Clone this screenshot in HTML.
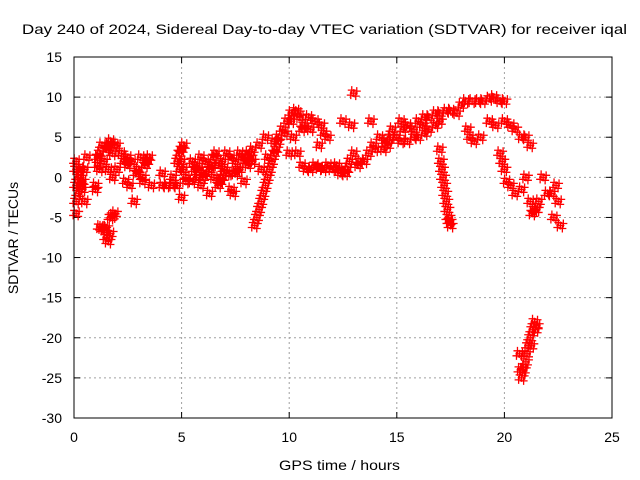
<!DOCTYPE html>
<html><head><meta charset="utf-8"><style>
body{margin:0;background:#fff;}
svg{display:block;font-family:"Liberation Sans",sans-serif;}
</style></head><body>
<svg id="chart" width="640" height="480">
<rect width="640" height="480" fill="#fff"/>
<text x="22" y="34" font-size="14" textLength="605" lengthAdjust="spacingAndGlyphs">Day 240 of 2024, Sidereal Day-to-day VTEC variation (SDTVAR) for receiver iqal</text>
<text x="279" y="470" font-size="14" textLength="121" lengthAdjust="spacingAndGlyphs">GPS time / hours</text>
<text transform="translate(18,238) rotate(-90)" font-size="14" text-anchor="middle">SDTVAR / TECUs</text>
<g id="grid"></g><g id="ticks"></g><g id="pts"></g>
<rect x="74" y="57" width="538" height="361" fill="none" stroke="#000"/>
</svg>
<script>
const xTicks=[0,5,10,15,20,25];
const yTicks=[15,10,5,0,-5,-10,-15,-20,-25,-30];
const xs=[0.1,0.1,0.1,0.1,0.1,0.2,0.2,0.3,0.3,0.3,0.4,0.4,0.5,0.5,0.6,1.0,1.0,1.1,1.1,1.2,1.2,1.2,1.3,1.3,1.4,1.4,1.5,1.5,1.5,1.6,1.6,1.6,1.7,1.7,1.7,1.8,1.8,1.8,1.9,1.9,2.0,2.0,
2.3,2.4,2.5,2.6,2.7,2.8,2.9,3.0,3.1,3.2,3.3,3.4,3.5,3.6,3.2,2.2,2.5,
4.1,4.1,4.3,4.6,4.6,4.8,4.8,4.9,4.9,5.0,5.0,5.0,5.1,5.1,5.2,5.2,
5.5,5.5,5.7,5.7,5.9,5.9,6.1,6.1,6.3,6.3,6.5,6.5,6.7,6.7,6.9,6.9,7.1,7.1,7.3,7.3,7.5,7.5,7.7,7.7,7.9,7.9,8.1,8.1,8.3,8.3,5.6,6.0,6.4,6.8,7.2,7.6,8.0,5.8,6.6,7.0,7.4,7.8,8.2,
8.4,8.5,8.6,8.7,8.8,8.9,9.0,9.1,9.2,9.3,9.4,9.5,8.7,9.0,9.3,9.5,8.6,8.9,
9.7,9.9,10.1,10.3,10.5,10.7,10.2,10.0,10.4,10.6,10.8,9.8,10.1,10.4,10.6,
11.0,11.2,11.4,11.6,11.8,12.0,11.5,11.2,11.8,11.0,11.4,11.6,10.9,
12.3,12.6,12.8,13.0,13.2,12.5,12.9,13.0,12.2,12.7,13.3,12.4,
13.5,13.7,14.0,14.2,14.5,14.7,15.0,14.8,14.2,13.8,14.4,13.9,14.6,
15.2,15.5,15.8,16.0,16.3,16.5,16.8,17.0,15.5,15.8,16.0,16.3,16.5,16.8,17.0,17.3,17.5,15.2,15.3,16.2,
17.0,17.05,17.1,17.15,17.2,17.25,17.3,17.35,17.4,17.45,17.5,
17.8,18.0,18.2,18.5,18.8,19.0,19.3,19.5,19.8,20.0,18.3,18.4,18.6,18.9,19.3,19.6,20.0,20.3,20.5,20.8,21.0,21.2,19.8,19.9,20.0,20.1,20.3,20.5,20.8,21.0,21.2,21.4,21.6,21.8,22.0,22.3,22.5,22.4,22.6,21.3,21.5,22.2,
20.7,20.75,20.8,20.85,20.9,21.0,21.05,21.1,21.2,21.25,21.3,21.4,21.45,21.5];
const ys=[2,1,-1,-3,-4.5,0,-2,-1,0,1,-1.5,-0.5,1,-3,2.5,-1,-1.5,1.5,2.5,-6.2,3,1,-6.3,4,-6.5,2,-6.3,-7.5,3.5,-8,4,1,-5,-7,4.5,-4.8,3,0,-4.5,4,4,1,
2,-0.5,1.5,-1,2,-3,0.5,1,2.5,-0.5,1.5,2,2.5,-1,0,3,2.5,
-1,0.5,-1,-1,0,2,-1,3,1,3.5,2,-2.5,4,1,0,-0.5,
2,-0.5,1.5,0,2.5,-1,2,0.5,1,-2,2.5,0,1.5,-1,2,0,3,0.5,2.5,-1.5,2,0.5,3,1,2.5,-0.5,3,1.5,3.5,2,1,0,1.5,-0.5,0.5,1,2,1,3,1,-2,2.5,2.5,
-6,-5,-4,-3,-2,-1,0,1,2,3,3.5,4.5,1,2.5,4.5,5,4,5,
6,7,8,8.3,7.5,6.5,5,3,3,1.5,1,5.5,7,8,6,
1,1.5,1.2,1,1.5,1,6.5,7,5,6,4,5.5,7.5,
1,0.5,2,3,1.5,7,6.5,10.5,1.5,1,2,0.5,
2,3,3.5,5,4.5,5,5,6,5,7,3.5,4,4,
4.5,4.5,5,5,5.5,6,6.5,7,6.5,6,7,7.5,7.5,8,8,8.3,8.3,7,6,6.5,
3.5,2,1,0,-1,-2,-3,-4,-5,-5.5,-6,
8,9,9.5,9.5,9.5,9.5,9.8,10,9.5,9.5,6,5,4.5,5,7,6.5,7,6.5,6,5,5,4,3,2,1,-0.5,-1,-2,-1.5,0,-3,-4,-3,0,-2,-5,-3,-1,-6,-4.5,-4,-2,
-22,-24,-25,-24,-24,-23,-22,-21,-20,-21,-19,-18,-19,-18.5];
const X=v=>74+v*538/25, Y=v=>57+(15-v)*361/45;
const NS='http://www.w3.org/2000/svg';
const g=document.getElementById('grid'),t=document.getElementById('ticks'),p=document.getElementById('pts');
function mk(tag,a,parent){const e=document.createElementNS(NS,tag);for(const k in a)e.setAttribute(k,a[k]);parent.appendChild(e);return e;}
xTicks.forEach(v=>{
 const l=mk('line',{x1:X(v),x2:X(v),y1:57,y2:418,stroke:'#a0a0a0','stroke-dasharray':'2,3'},g);
 
 
 const tk=mk('text',{x:X(v),y:442,'font-size':14,'text-anchor':'middle'},t);tk.textContent=v;
 
 
 mk('line',{x1:X(v),x2:X(v),y1:418,y2:412,stroke:'#000'},t);
 mk('line',{x1:X(v),x2:X(v),y1:57,y2:63,stroke:'#000'},t);
});
yTicks.forEach(v=>{
 const l=mk('line',{x1:74,x2:612,y1:Y(v),y2:Y(v),stroke:'#a0a0a0','stroke-dasharray':'2,3'},g);
 
 
 const tk=mk('text',{x:62,y:Y(v)+5,'font-size':14,'text-anchor':'end'},t);tk.textContent=v;
 
 
 mk('line',{x1:74,x2:80,y1:Y(v),y2:Y(v),stroke:'#000'},t);
 mk('line',{x1:612,x2:606,y1:Y(v),y2:Y(v),stroke:'#000'},t);
});
let d='';
for(let i=0;i<xs.length;i++){
 const cx=X(xs[i]),cy=Y(ys[i]);
 for(const [ox,oy] of [[0,0],[2,3],[-2,-3],[3,-2],[-3,2]]){
  const a=cx+ox,b=cy+oy;
  d+=`M${a-4},${b}h8M${a},${b-4}v8`;
 }
}
const path=mk('path',{d:d,stroke:'#ff0000','stroke-width':1.3,fill:'none'},p);


</script>
</body></html>
